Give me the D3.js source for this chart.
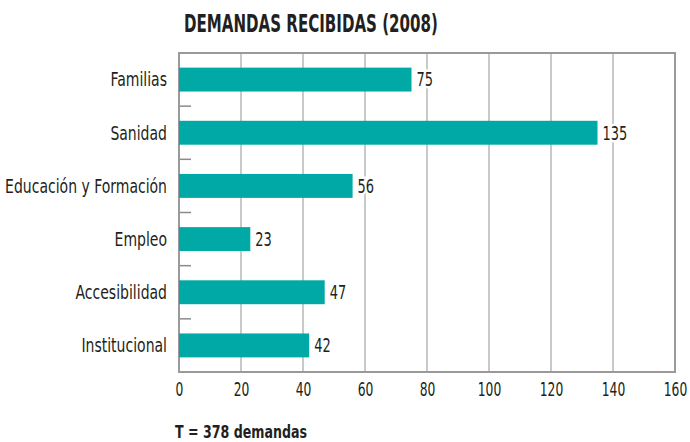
<!DOCTYPE html>
<html>
<head>
<meta charset="utf-8">
<script src="https://cdn.jsdelivr.net/npm/d3@7"></script>
<style>
  html, body { margin: 0; padding: 0; background: #fff; }
  svg { display: block; }
  text { font-family: "DejaVu Sans Condensed", "Liberation Sans Narrow", "Liberation Sans", sans-serif; font-stretch: condensed; fill: #231f20; }
</style>
</head>
<body>
<svg id="chart" width="690" height="442"></svg>
<script>
// Demandas recibidas por área, 2008
const categories = ["Familias", "Sanidad", "Educación y Formación", "Empleo", "Accesibilidad", "Institucional"];
const values = [75, 135, 56, 23, 47, 42];
const xTicks = [0, 20, 40, 60, 80, 100, 120, 140, 160];
const title = "DEMANDAS RECIBIDAS (2008)";
const footer = "T = 378 demandas";

const svg = d3.select("#chart");
const margin = { left: 179, right: 15, top: 53, bottom: 70 };
const W = 690, H = 442;
const x0 = margin.left, x1 = W - margin.right;
const y0 = margin.top, y1 = H - margin.bottom;

const x = d3.scaleLinear().domain([0, 160]).range([x0, x1]);
const y = d3.scaleBand().domain(categories).range([y0, y1]).paddingInner(0.55).paddingOuter(0.275);
const yb = d3.scaleBand().domain(categories).range([y0, y1]);

// narrow type: place text at (tx, ty) and squeeze it horizontally
const narrow = (tx, ty, sx) => `translate(${tx},${ty}) scale(${sx},1)`;

// vertical gridlines
svg.append("g").selectAll("line").data(xTicks.filter(d => d > 0 && d < 160)).join("line")
  .attr("x1", d => x(d)).attr("x2", d => x(d))
  .attr("y1", y0).attr("y2", y1)
  .attr("stroke", "#c9c9c9").attr("stroke-width", 2);

// separators between categories
svg.append("g").selectAll("line").data(categories.slice(1)).join("line")
  .attr("x1", x0).attr("x2", x0 + 12)
  .attr("y1", d => yb(d)).attr("y2", d => yb(d))
  .attr("stroke", "#8a8a8a").attr("stroke-width", 1.5);

// frame
svg.append("rect")
  .attr("x", x0).attr("y", y0).attr("width", x1 - x0).attr("height", y1 - y0)
  .attr("fill", "none").attr("stroke", "#9a9a9a").attr("stroke-width", 2);

// bars
svg.append("g").selectAll("rect").data(categories).join("rect")
  .attr("x", x(0)).attr("y", d => y(d))
  .attr("width", (d, i) => x(values[i]) - x(0))
  .attr("height", y.bandwidth())
  .attr("fill", "#00a9a5");

// value labels (white halo breaks the gridlines)
svg.append("g").selectAll("text").data(categories).join("text")
  .attr("transform", (d, i) => narrow(x(values[i]) + 5, y(d) + y.bandwidth() / 2, 0.76))
  .attr("dy", "0.36em")
  .attr("font-size", 19)
  .attr("stroke", "#fff").attr("stroke-width", 5).attr("paint-order", "stroke")
  .text((d, i) => values[i]);

// category labels
svg.append("g").selectAll("text").data(categories).join("text")
  .attr("transform", d => narrow(167, y(d) + y.bandwidth() / 2, 0.82))
  .attr("dy", "0.36em")
  .attr("text-anchor", "end")
  .attr("font-size", 19)
  .text(d => d);

// x axis labels
const xAxis = d3.axisBottom(x).tickValues(xTicks).tickSize(0).tickPadding(11).tickFormat(d3.format("d"));
const gx = svg.append("g").attr("transform", `translate(0,${y1})`).call(xAxis);
gx.select(".domain").remove();
gx.selectAll("text")
  .attr("font-size", 19).attr("font-family", null).attr("fill", "#231f20")
  .attr("transform", "scale(0.72,1)");

// title and footer
svg.append("text").attr("transform", narrow(184, 32, 0.67))
  .attr("font-size", 25).attr("font-weight", "bold").text(title);
svg.append("text").attr("transform", narrow(175, 438, 0.78))
  .attr("font-size", 18).attr("font-weight", "bold").text(footer);
</script>
</body>
</html>
